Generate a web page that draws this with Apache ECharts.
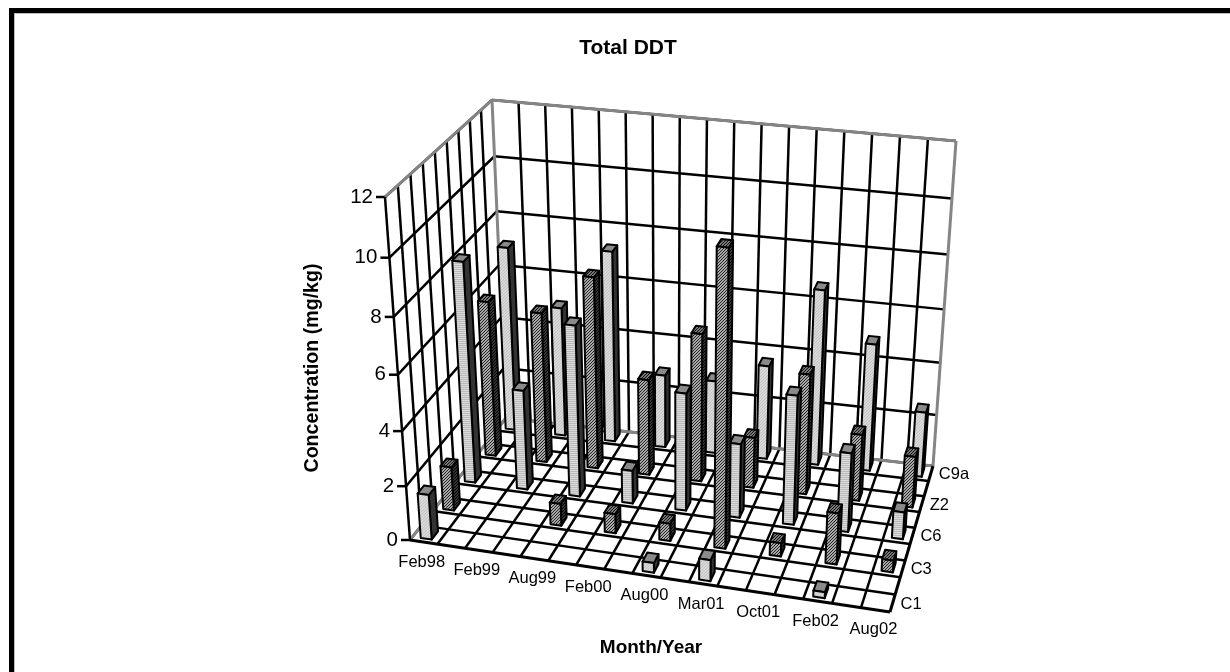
<!DOCTYPE html>
<html>
<head>
<meta charset="utf-8">
<style>
html, body { margin: 0; padding: 0; background: #fff; }
#container { width: 1230px; height: 672px; }
</style>
<script src="https://cdn.jsdelivr.net/npm/echarts@6/dist/echarts.min.js"></script>
</head>
<body>
<div id="container"></div>
<script>
// months are every second column of the 17 column floor, sites every second of 9 rows
var months = ['Feb98', 'Feb99', 'Aug99', 'Feb00', 'Aug00', 'Mar01', 'Oct01', 'Feb02', 'Aug02'];
var sites = ['C1', 'C3', 'C6', 'Z2', 'C9a'];
var yTicks = [0, 2, 4, 6, 8, 10, 12];

var c1Values = [1.66, null, null, null, 0.36, 0.78, null, 0.22, null];
var c3Values = [1.63, null, 0.82, 0.72, 0.65, 10.7, 0.5, 1.9, 0.44];
var c6Values = [8.19, 3.75, 6.38, 1.25, 4.4, 2.78, 4.82, 2.96, 1.02];
var z2Values = [5.87, 5.68, 7.21, 3.64, 5.58, 1.92, 4.54, 2.53, 1.94];
var c9aValues = [7.02, 4.96, 7.27, 2.81, 2.8, 3.6, 6.65, 4.85, 2.49];

var COLS = 17, ROWS = 9, YMAX = 12;
var gridBox = { left: 100, top: 100, width: 1000, height: 500 };
var FONT = '"Liberation Sans", Arial, sans-serif';

// corners of the box on the page: front left, front right, back right, back left
var floorQuad = [[410, 540], [890, 612], [933, 466], [506, 418]];
var topQuad = [[385, 197], [908, 263], [956, 141], [492, 100]];

// foreshortening of the three box directions
var widthPersp = 0.03, depthPersp = 0.09, heightPersp = 0.075;

function bilinear(q, u, v) {
    var ax = q[0][0] + (q[1][0] - q[0][0]) * u, ay = q[0][1] + (q[1][1] - q[0][1]) * u;
    var bx = q[3][0] + (q[2][0] - q[3][0]) * u, by = q[3][1] + (q[2][1] - q[3][1]) * u;
    return [ax + (bx - ax) * v, ay + (by - ay) * v];
}

// col and value go through the hidden axes, row is the depth
function project(api, col, row, value) {
    var c = api.coord([col, value]);
    var u = (c[0] - gridBox.left) / gridBox.width;
    var t = 1 - (c[1] - gridBox.top) / gridBox.height;
    var v = row / ROWS;
    u = u / (1 + widthPersp * (1 - u));
    v = v * (1 + depthPersp) / (1 + depthPersp * v);
    t = t / (1 + heightPersp * (1 - t));
    var f = bilinear(floorQuad, u, v);
    var p = bilinear(topQuad, u, v);
    return [f[0] + (p[0] - f[0]) * t, f[1] + (p[1] - f[1]) * t];
}

function makePattern(size, draw) {
    var cv = document.createElement('canvas');
    cv.width = size;
    cv.height = size;
    draw(cv.getContext('2d'));
    return { image: cv, repeat: 'repeat' };
}
function hatch(bg, fg, size) {
    return makePattern(size, function (ctx) {
        ctx.fillStyle = bg;
        ctx.fillRect(0, 0, size, size);
        ctx.fillStyle = fg;
        for (var i = 0; i < size; i++) {
            ctx.fillRect(i, size - 1 - i, 1, 1);
        }
    });
}
function stripes(bg, fg) {
    return makePattern(2, function (ctx) {
        ctx.fillStyle = bg;
        ctx.fillRect(0, 0, 2, 2);
        ctx.fillStyle = fg;
        ctx.fillRect(0, 1, 2, 1);
    });
}

var lightStyle = { front: hatch('#d8d8d8', '#c4c4c4', 3), side: '#333', top: '#8a8a8a' };
var stripeStyle = { front: stripes('#dadada', '#bcbcbc'), side: '#333', top: '#8a8a8a' };
var darkStyle = { front: hatch('#aaa', '#222', 3), side: hatch('#333', '#000', 3), top: hatch('#777', '#111', 3) };

function line(p, q, color, width) {
    return {
        type: 'line',
        shape: { x1: p[0], y1: p[1], x2: q[0], y2: q[1] },
        style: { stroke: color, lineWidth: width }
    };
}
function label(text, x, y, size, align) {
    return {
        type: 'text',
        style: { text: text, x: x, y: y, fill: '#000', font: size + 'px ' + FONT, align: align, verticalAlign: 'middle' }
    };
}

function renderBox(params, api) {
    var kids = [], i, t;
    var P = function (col, row, v) { return project(api, col, row, v); };
    var BLACK = '#000', GRAY = '#858585';

    // value lines on both walls
    yTicks.forEach(function (v) {
        kids.push(line(P(0, 0, v), P(0, ROWS, v), BLACK, 2.5));
        kids.push(line(P(0, ROWS, v), P(COLS, ROWS, v), BLACK, 2.5));
        var a = P(0, 0, v);
        kids.push(line([a[0] - 9, a[1]], a, BLACK, 2.5));
        kids.push(label(String(v), a[0] - 12, a[1], 20.5, 'right'));
    });
    for (i = 1; i < COLS; i++) {
        kids.push(line(P(i, ROWS, 0), P(i, ROWS, YMAX), BLACK, 2.5));
        kids.push(line(P(i, 0, 0), P(i, ROWS, 0), BLACK, 2.5));
    }
    for (i = 1; i < ROWS; i++) {
        kids.push(line(P(0, i, 0), P(0, i, YMAX), BLACK, 2.5));
        kids.push(line(P(0, i, 0), P(COLS, i, 0), BLACK, 2.5));
    }
    // outer edges
    kids.push(line(P(0, ROWS, 0), P(0, ROWS, YMAX), GRAY, 3));
    kids.push(line(P(COLS, ROWS, 0), P(COLS, ROWS, YMAX), GRAY, 3));
    kids.push(line(P(0, ROWS, YMAX), P(COLS, ROWS, YMAX), GRAY, 3));
    kids.push(line(P(0, 0, YMAX), P(0, ROWS, YMAX), GRAY, 3));
    kids.push(line(P(0, 0, 0), P(0, ROWS, 0), GRAY, 3));
    kids.push(line(P(0, ROWS, 0), P(COLS, ROWS, 0), GRAY, 3));
    kids.push(line(P(0, 0, 0), P(0, 0, YMAX), BLACK, 2.5));
    kids.push(line(P(0, 0, 0), P(COLS, 0, 0), BLACK, 3));
    kids.push(line(P(COLS, 0, 0), P(COLS, ROWS, 0), BLACK, 3));

    months.forEach(function (m, k) {
        t = P(k * 2 + 0.5, 0, 0);
        kids.push(label(m, t[0] - 2, t[1] + 20, 16.5, 'center'));
    });
    sites.forEach(function (s, k) {
        t = P(COLS, k * 2 + 0.5, 0);
        kids.push(label(s, t[0] + 8, t[1] + 1, 16.5, 'left'));
    });
    return { type: 'group', children: kids };
}

function barRenderer(look) {
    return function (params, api) {
        var col = api.value(0) + 0.5, row = api.value(1) + 0.5, v = api.value(2);
        var w = 0.2, d = 0.28;
        var P = function (c, r, h) { return project(api, c, r, h); };
        var fl = P(col - w, row - d, 0), fr = P(col + w, row - d, 0), br = P(col + w, row + d, 0);
        var tl = P(col - w, row - d, v), tr = P(col + w, row - d, v), bt = P(col + w, row + d, v), bl = P(col - w, row + d, v);
        var face = function (pts, fill) {
            return {
                type: 'polygon',
                shape: { points: pts },
                style: { fill: fill, stroke: '#000', lineWidth: 2, lineJoin: 'round' }
            };
        };
        return {
            type: 'group',
            children: [
                face([fr, br, bt, tr], look.side),
                face([tl, tr, bt, bl], look.top),
                face([fl, fr, tr, tl], look.front)
            ]
        };
    };
}

function barSeries(name, values, siteIndex, look) {
    var data = [];
    values.forEach(function (v, k) {
        if (v !== null) {
            data.push([k * 2, siteIndex * 2, v]);
        }
    });
    return {
        type: 'custom',
        name: name,
        silent: true,
        clip: false,
        coordinateSystem: 'cartesian2d',
        encode: { x: 0, y: 2 },
        renderItem: barRenderer(look),
        data: data
    };
}

var chart = echarts.init(document.getElementById('container'));
chart.setOption({
    animation: false,
    backgroundColor: '#fff',
    title: {
        text: 'Total DDT',
        left: 623,
        top: 33,
        textAlign: 'center',
        textStyle: { fontFamily: FONT, fontSize: 21, fontWeight: 'bold', color: '#000' }
    },
    grid: gridBox,
    xAxis: { type: 'value', min: 0, max: COLS, show: false },
    yAxis: { type: 'value', min: 0, max: YMAX, show: false },
    graphic: [
        { type: 'rect', shape: { x: 9, y: 8, width: 5, height: 664 }, style: { fill: '#000' } },
        { type: 'rect', shape: { x: 9, y: 8, width: 1221, height: 5 }, style: { fill: '#000' } },
        { type: 'rect', shape: { x: 14, y: 13, width: 1, height: 659 }, style: { fill: '#bbb' } },
        { type: 'rect', shape: { x: 14, y: 13, width: 1216, height: 1 }, style: { fill: '#bbb' } },
        {
            type: 'text', x: 313, y: 368, rotation: Math.PI / 2,
            style: { text: 'Concentration (mg/kg)', fill: '#000', font: 'bold 19.6px ' + FONT, align: 'center', verticalAlign: 'middle' }
        },
        {
            type: 'text', x: 651, y: 648,
            style: { text: 'Month/Year', fill: '#000', font: 'bold 19px ' + FONT, align: 'center', verticalAlign: 'middle' }
        }
    ],
    series: [
        {
            type: 'custom',
            silent: true,
            clip: false,
            coordinateSystem: 'cartesian2d',
            renderItem: renderBox,
            data: [[0, 0]]
        },
        barSeries('C9a', c9aValues, 4, lightStyle),
        barSeries('Z2', z2Values, 3, darkStyle),
        barSeries('C6', c6Values, 2, stripeStyle),
        barSeries('C3', c3Values, 1, darkStyle),
        barSeries('C1', c1Values, 0, lightStyle)
    ]
});
</script>
</body>
</html>
